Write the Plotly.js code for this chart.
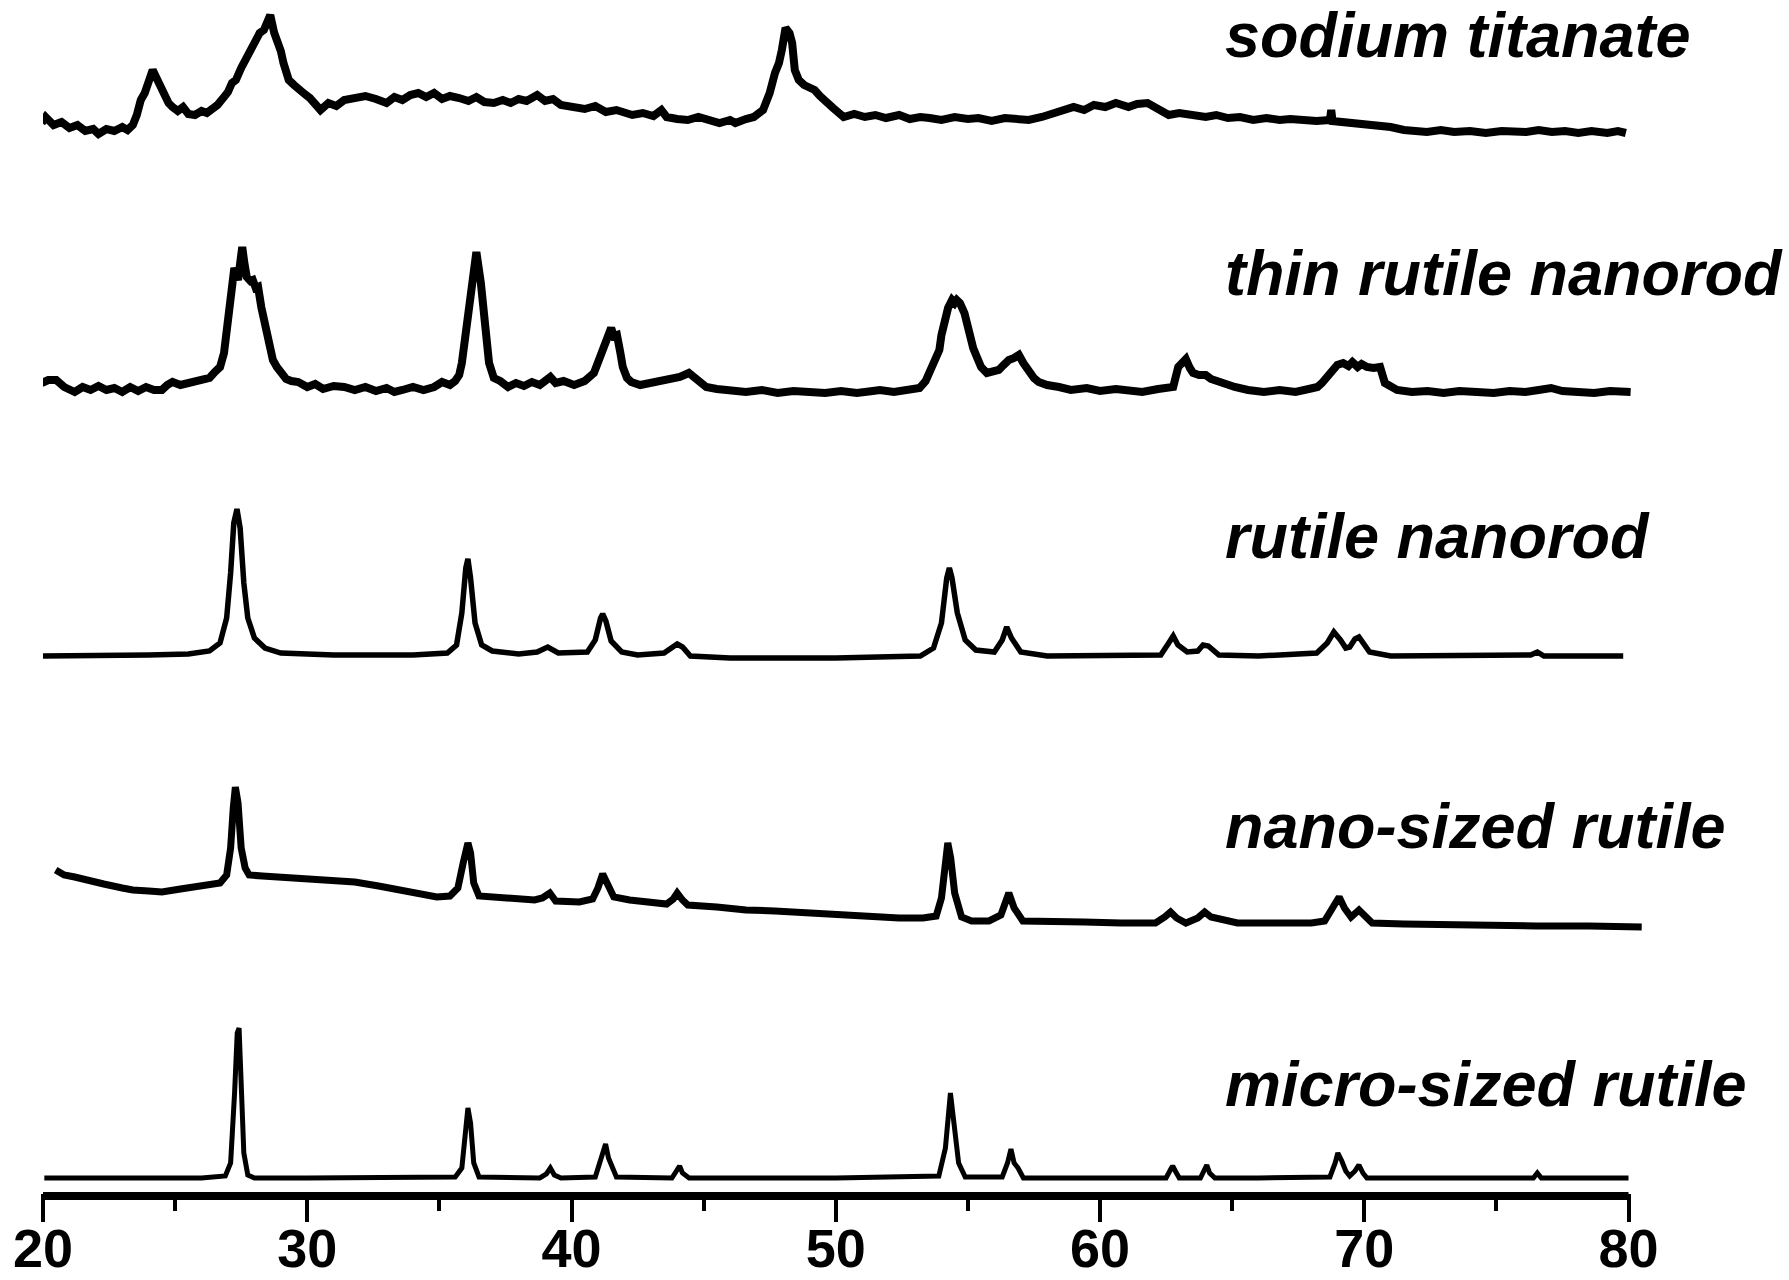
<!DOCTYPE html>
<html>
<head>
<meta charset="utf-8">
<script src="https://cdn.plot.ly/plotly-3.0.1.min.js"></script>
<style>html,body{margin:0;padding:0;background:#fff;}#chart{width:1789px;height:1280px;}</style>
</head>
<body>
<div id="chart"></div>
<script>
// 2-theta (degrees) and stacked intensity (a.u.)
const sodiumX = [19.95,20.1,20.4,20.7,21.0,21.3,21.6,21.9,22.1,22.4,22.7,23.0,23.2,23.4,23.55,23.7,23.85,23.97,24.15,24.35,24.56,24.75,24.9,25.1,25.3,25.5,25.75,26.0,26.2,26.4,26.6,26.85,27.0,27.15,27.3,27.5,27.7,27.85,28.0,28.2,28.36,28.5,28.6,28.75,28.9,29.0,29.1,29.2,29.3,29.5,29.67,29.9,30.1,30.3,30.5,30.8,31.1,31.4,31.8,32.2,32.6,33.0,33.3,33.6,33.9,34.2,34.5,34.8,35.1,35.4,35.75,36.1,36.4,36.7,37.06,37.4,37.7,38.0,38.3,38.7,39.0,39.3,39.6,40.1,40.5,40.9,41.3,41.7,42.3,42.7,43.1,43.4,43.6,44.0,44.4,44.8,45.2,45.6,46.0,46.2,46.6,46.9,47.25,47.5,47.7,47.85,47.96,48.1,48.25,48.35,48.45,48.6,48.8,49.0,49.2,49.4,49.66,49.9,50.3,50.7,51.1,51.5,51.9,52.4,52.8,53.2,53.55,54.0,54.5,55.0,55.4,55.9,56.4,56.9,57.3,57.8,58.2,58.6,59.0,59.4,59.77,60.2,60.6,61.08,61.4,61.8,62.2,62.6,63.0,63.5,64.0,64.4,64.84,65.3,65.8,66.3,66.8,67.2,67.67,68.2,68.7,68.75,68.8,69.2,69.7,70.1,70.5,71.0,71.5,72.0,72.37,72.9,73.4,74.0,74.6,75.2,75.7,76.13,76.6,77.1,77.6,78.1,78.6,79.2,79.6,79.9];
const sodiumY = [1070,1076,1068,1071,1065,1068,1062,1064,1059,1064,1062,1066,1063,1068,1078,1093,1100,1110,1123,1112,1100,1090,1086,1082,1086,1079,1078,1082,1080,1083,1088,1096,1101,1110,1113,1125,1136,1145,1153,1160,1163,1170,1178,1160,1150,1142,1130,1120,1113,1108,1103,1099,1095,1088,1083,1090,1087,1093,1095,1097,1094,1090,1096,1093,1098,1100,1096,1100,1094,1097,1095,1092,1096,1091,1090,1093,1090,1094,1092,1098,1092,1094,1088,1086,1084,1087,1081,1083,1078,1080,1077,1083,1076,1074,1073,1076,1072,1070,1073,1070,1074,1076,1083,1100,1120,1130,1143,1165,1160,1150,1123,1113,1108,1105,1103,1097,1090,1085,1076,1079,1076,1078,1075,1078,1074,1076,1075,1073,1076,1074,1075,1072,1075,1073,1073,1076,1079,1083,1086,1083,1088,1086,1090,1086,1089,1090,1084,1078,1080,1077,1076,1078,1075,1076,1073,1075,1073,1074,1073,1072,1073,1083,1072,1071,1069,1070,1068,1066,1063,1062,1061,1063,1061,1062,1060,1062,1061,1061,1063,1061,1062,1060,1062,1060,1062,1060];

const thinX = [19.95,20.2,20.5,20.8,21.2,21.5,21.8,22.1,22.4,22.7,23.0,23.3,23.6,23.9,24.2,24.5,24.7,24.9,25.2,25.5,25.8,26.0,26.3,26.5,26.7,26.85,26.95,27.07,27.15,27.24,27.38,27.46,27.54,27.62,27.71,27.85,27.94,28.05,28.14,28.26,28.36,28.47,28.6,28.7,28.85,29.0,29.2,29.4,29.66,30.0,30.3,30.6,31.0,31.4,31.8,32.2,32.6,33.0,33.3,33.6,34.0,34.4,34.8,35.1,35.4,35.6,35.75,35.85,35.95,36.07,36.23,36.4,36.57,36.72,36.88,37.06,37.3,37.6,37.9,38.2,38.5,38.8,39.0,39.2,39.4,39.7,40.1,40.5,40.85,41.05,41.19,41.35,41.5,41.6,41.72,41.85,41.94,42.1,42.26,42.6,43.0,43.4,43.8,44.1,44.44,44.7,45.1,45.5,46.0,46.6,47.2,47.8,48.4,49.0,49.6,50.2,50.8,51.4,51.67,52.2,52.7,53.17,53.4,53.55,53.75,53.92,54.0,54.1,54.25,54.4,54.5,54.58,54.7,54.87,54.95,55.05,55.2,55.34,55.5,55.72,55.95,56.17,56.35,56.55,56.75,56.93,57.1,57.3,57.5,57.68,58.0,58.45,58.9,59.5,60.0,60.6,61.08,61.6,62.2,62.77,62.96,63.1,63.25,63.4,63.52,63.75,64.0,64.2,64.4,64.65,65.1,65.6,66.2,66.8,67.4,67.9,68.23,68.4,68.6,68.8,68.98,69.2,69.4,69.55,69.75,69.9,70.1,70.35,70.6,70.78,71.0,71.24,71.8,72.4,73.0,73.6,74.26,74.9,75.5,76.1,76.6,77.07,77.5,78.1,78.7,79.3,80.08];
const thinY = [810,813,813,806,801,806,803,807,803,805,801,806,802,806,803,803,808,811,808,810,812,813,815,821,826,840,865,890,910,925,913,930,946,930,916,912,913,905,906,886,873,853,840,833,826,820,814,812,811,806,809,804,807,806,803,806,802,805,801,803,806,803,806,811,808,812,818,830,850,883,906,941,910,866,830,815,812,806,810,807,811,808,811,816,810,812,808,812,820,835,843,855,865,857,858,840,826,815,811,808,810,812,813,816,820,814,806,804,802,801,803,800,802,800,800,802,800,802,803,801,803,805,812,821,832,843,858,873,885,893,890,893,890,880,870,860,845,836,826,820,822,823,828,833,835,838,830,822,815,811,808,806,803,805,802,804,803,801,804,806,826,830,834,825,820,818,818,814,812,810,806,803,801,803,801,804,806,810,816,822,828,830,827,831,826,829,826,825,826,810,806,803,801,802,800,802,801,800,802,801,803,805,802,801,800,802,801];

const rodX = [20,22,24,25.5,26.3,26.7,26.95,27.1,27.22,27.34,27.46,27.6,27.75,28.0,28.4,29,31,34,35.3,35.65,35.85,36.0,36.08,36.18,36.35,36.6,37,38,38.7,39.1,39.5,40.6,40.9,41.1,41.18,41.3,41.5,41.9,42.5,43.5,43.85,44.0,44.2,44.5,46,50,53.2,53.7,54.0,54.2,54.3,54.4,54.6,54.9,55.3,56.0,56.3,56.47,56.65,57.0,58,62.3,62.6,62.77,62.95,63.3,63.7,63.9,64.1,64.5,66,68.2,68.6,68.85,69.1,69.3,69.45,69.65,69.8,69.95,70.2,71,74,76.3,76.55,76.8,79.8];
const rodY = [537,537,538,539,542,550,575,620,670,684,665,610,575,555,545,540,538,538,540,548,580,625,634,615,570,548,542,539,541,546,540,541,553,575,579,572,552,541,538,540,547,549,546,537,535,535,537,545,570,615,625,615,580,553,543,541,553,566,555,541,537,538,550,557,548,541,542,548,547,538,537,540,550,561,553,545,546,554,556,550,541,537,537,538,541,537,537];

const nanoX = [20.48,20.8,21.2,21.6,22.3,23.0,23.4,24.0,24.5,25.2,25.8,26.3,26.7,26.95,27.1,27.2,27.28,27.38,27.5,27.65,27.8,28.3,28.8,29.5,30.1,31.0,31.8,32.7,33.6,34.3,34.9,35.4,35.7,35.9,36.0,36.08,36.18,36.3,36.5,37.0,37.5,38.1,38.6,38.9,39.18,39.4,39.8,40.3,40.8,41.0,41.18,41.35,41.6,42.2,42.7,43.2,43.6,43.85,44.0,44.2,44.4,45.5,46.6,47.7,48.8,49.8,50.9,51.7,52.4,53.3,53.8,54.0,54.15,54.24,54.35,54.5,54.76,55.14,55.8,56.25,56.55,56.75,57.08,58,59.4,60.8,62.1,62.45,62.67,62.9,63.25,63.7,63.96,64.2,64.6,65.2,66.5,68.0,68.5,68.8,69.05,69.25,69.5,69.8,70.0,70.3,71.5,73,74.8,76.5,78.5,80.5];
const nanoY = [323,318,316,313,309,305,303,302,301,304,307,308,310,318,345,385,406,390,345,325,318,317,316,315,313,312,311,307,303,299,296,297,305,330,345,350,340,310,297,296,295,294,293,295,300,292,291,291,294,305,319,310,296,293,291,290,289,294,300,293,288,286,283,282,280,278,276,276,275,275,277,295,330,350,335,300,276,272,272,278,300,285,272,271,271,270,270,276,281,275,270,275,281,276,273,270,270,270,272,285,296,285,276,283,278,270,269,268,268,267,267,266];

const microX = [20.05,22,24,26,26.9,27.1,27.25,27.35,27.42,27.5,27.6,27.75,28,30,33,35.6,35.85,36.0,36.08,36.18,36.3,36.5,38.8,39.05,39.2,39.35,39.6,40.9,41.15,41.29,41.4,41.7,43.8,44.0,44.09,44.2,44.45,46,50,53.9,54.15,54.34,54.45,54.52,54.65,54.9,56.3,56.5,56.63,56.75,56.9,57.1,60,62.5,62.68,62.75,62.85,63.0,63.8,63.95,64.04,64.15,64.35,66,68.7,68.9,69.0,69.15,69.3,69.45,69.65,69.8,69.95,70.1,72,76.4,76.55,76.7,78,80];
const microY = [15,15,15,15,17,30,100,160,165,110,40,18,15,15,15,16,25,70,85,70,30,16,15,19,25,18,15,16,35,49,35,16,15,22,27,20,15,15,15,17,45,100,75,65,30,16,16,30,44,30,25,15,15,15,24,27,22,15,15,25,28,20,15,15,16,30,40,32,22,17,22,28,20,15,15,15,20,15,15,15];

const sampleNames = ["sodium titanate","thin rutile nanorod","rutile nanorod","nano-sized rutile","micro-sized rutile"];
const tickVals = [20,30,40,50,60,70,80];
const tickText = ["20","30","40","50","60","70","80"];
const minorTickVals = [25,35,45,55,65,75];
const axisStart = 20, axisEnd = 80;

const lineStyle = w => ({color:"#000", width:w, shape:"linear"});
const traces = [
  {x:sodiumX, y:sodiumY, mode:"lines", line:lineStyle(8), name:sampleNames[0]},
  {x:thinX, y:thinY, mode:"lines", line:lineStyle(8), name:sampleNames[1]},
  {x:rodX, y:rodY, mode:"lines", line:lineStyle(5.5), name:sampleNames[2]},
  {x:nanoX, y:nanoY, mode:"lines", line:lineStyle(7), name:sampleNames[3]},
  {x:microX, y:microY, mode:"lines", line:lineStyle(5), name:sampleNames[4]}
];

const labelY = [1158, 920, 657, 367, 109];
const labelFont = {family:"Liberation Sans, Arial, sans-serif", size:63, color:"#000", weight:"bold", style:"italic"};
const annotations = sampleNames.map((t,i)=>({
  text:t, xref:"x", yref:"y", x:64.7, y:labelY[i], xanchor:"left", yanchor:"middle",
  showarrow:false, font:labelFont, borderpad:0
}));

const PW = 1638, PXPER = 26.425;
const layout = {
  width:1789, height:1280,
  margin:{l:43, r:1789-43-PW, t:0, b:87},
  paper_bgcolor:"#fff", plot_bgcolor:"#fff",
  showlegend:false,
  xaxis:{
    range:[axisStart, axisStart+PW/PXPER],
    showgrid:false, zeroline:false, showline:false,
    ticks:"outside", tickvals:tickVals, ticktext:tickText, ticklen:28, tickwidth:4, tickcolor:"#000",
    minor:{tickvals:minorTickVals, ticks:"outside", ticklen:17, tickwidth:4, tickcolor:"#000", showgrid:false},
    tickfont:{family:"Liberation Sans, Arial, sans-serif", size:54, color:"#000", weight:"bold"},
    ticklabelstandoff:-20,
    fixedrange:true
  },
  yaxis:{
    range:[0,1193], visible:false, showgrid:false, zeroline:false, showline:false, fixedrange:true
  },
  shapes:[{
    type:"line", xref:"x", yref:"paper", x0:axisStart, x1:axisEnd,
    ysizemode:"pixel", yanchor:0, y0:-3, y1:-3,
    line:{color:"#000", width:8}, layer:"above"
  }],
  annotations:annotations
};

Plotly.newPlot("chart", traces, layout, {staticPlot:true, displayModeBar:false});
</script>
</body>
</html>
